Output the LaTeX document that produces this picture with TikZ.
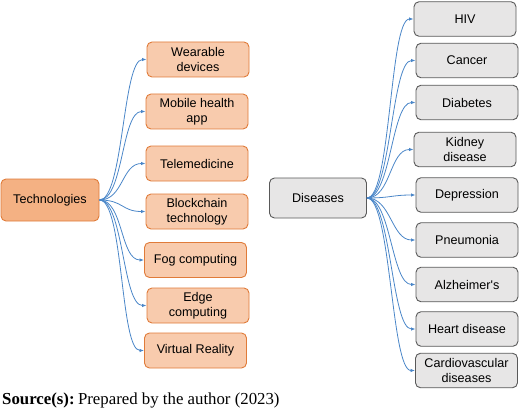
\documentclass[tikz,border=0pt]{standalone}
\usepackage{fontspec}
\setmainfont{Liberation Sans}
\newfontfamily\srcfont{Liberation Serif}
\usetikzlibrary{arrows.meta}
\definecolor{techdark}{HTML}{F4B183}
\definecolor{techlight}{HTML}{F8CBAD}
\definecolor{techborder}{HTML}{E07B39}
\definecolor{disfill}{HTML}{E7E6E6}
\definecolor{disborder}{HTML}{595959}
\definecolor{conncol}{HTML}{4A86C8}
\tikzset{
  box/.style={rounded corners=5pt, line width=0.9pt, align=center, inner sep=1pt,
    font=\fontsize{12.6}{14.5}\selectfont, text=black},
  techmain/.style={box, draw=techborder, fill=techdark, minimum width=98pt, minimum height=42pt},
  techbox/.style={box, draw=techborder, fill=techlight, minimum width=102pt, minimum height=35pt},
  dismain/.style={box, draw=disborder, fill=disfill, minimum width=97pt, minimum height=40pt},
  disbox/.style={box, draw=disborder, fill=disfill, minimum width=102pt, minimum height=34.5pt},
  conn/.style={draw=conncol, line width=0.8pt, -{Latex[length=4.5pt,width=3.5pt]}}
}
\begin{document}
\begin{tikzpicture}[x=1pt,y=-1pt]
\useasboundingbox (0,0) rectangle (520,412);
% technologies
\node[techmain] (tech) at (50,200) {Technologies};
\node[techbox] (wear) at (198,59.5) {Wearable\\devices};
\node[techbox] (mob) at (197,111.5) {Mobile health\\app};
\node[techbox] (tele) at (197,163.5) {Telemedicine};
\node[techbox] (block) at (197,211.5) {Blockchain\\technology};
\node[techbox] (fog) at (195.5,260) {Fog computing};
\node[techbox] (edge) at (198,305.5) {Edge\\computing};
\node[techbox] (vr) at (195.5,350.5) {Virtual Reality};
\foreach \t in {wear,mob,tele,block,fog,edge,vr}
  \draw[conn] (tech.east) .. controls +(24,0) and +(-24,0) .. (\t.west);
% diseases
\node[dismain] (dis) at (318,198) {Diseases};
\node[disbox] (hiv) at (465,19) {HIV};
\node[disbox] (can) at (467,60.5) {Cancer};
\node[disbox] (dia) at (467,102.5) {Diabetes};
\node[disbox] (kid) at (465,149.5) {Kidney\\disease};
\node[disbox] (dep) at (467,195) {Depression};
\node[disbox] (pne) at (467,240) {Pneumonia};
\node[disbox] (alz) at (467,284.5) {Alzheimer\textquotesingle s};
\node[disbox] (hea) at (467,329) {Heart disease};
\node[disbox] (car) at (466.5,370.5) {Cardiovascular\\diseases};
\foreach \t in {hiv,can,dia,kid,dep,pne,alz,hea,car}
  \draw[conn] (dis.east) .. controls +(24,0) and +(-24,0) .. (\t.west);
% source
\node[anchor=base west, inner sep=0pt, font=\srcfont\fontsize{16.8}{18}\selectfont] (src) at (2,404) {\textbf{Source(s):}\hspace{0.2em}Prepared by the author (2023)};
\end{tikzpicture}
\end{document}
